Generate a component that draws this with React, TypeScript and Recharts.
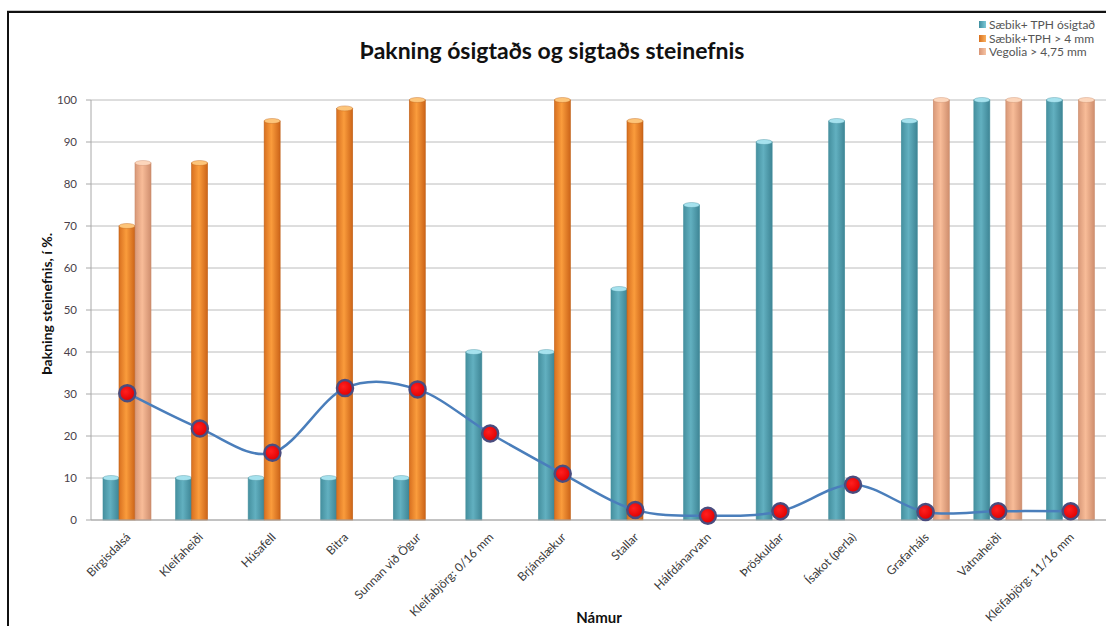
import React from 'react';
import { ComposedChart, Bar, Line, XAxis, YAxis, CartesianGrid } from 'recharts';

const categories = [
  'Birgisdalsá', 'Kleifaheiði', 'Húsafell', 'Bitra', 'Sunnan við Ögur', 'Kleifabjörg: 0/16 mm',
  'Brjánslækur', 'Stallar', 'Hálfdánarvatn', 'Þröskuldar', 'Ísakot (perla)', 'Grafarháls',
  'Vatnaheiði', 'Kleifabjörg: 11/16 mm',
];
const saebikOsigtad = [10, 10, 10, 10, 10, 40, 40, 55, 75, 90, 95, 95, 100, 100];
const saebik4mm = [70, 85, 95, 98, 100, null, 100, 95, null, null, null, null, null, null];
const vegolia = [85, null, null, null, null, null, null, null, null, null, null, 100, 100, 100];
const lineValues = [30.2, 21.8, 16, 31.4, 31.1, 20.6, 11, 2.4, 1, 2.1, 8.4, 1.9, 2.1, 2.1];
const yTicks = [0, 10, 20, 30, 40, 50, 60, 70, 80, 90, 100];

const seriesNames = ['Sæbik+ TPH ósigtað', 'Sæbik+TPH > 4 mm', 'Vegolia > 4,75 mm'];

const data = categories.map((c, i) => ({
  name: c,
  a: saebikOsigtad[i],
  b: saebik4mm[i],
  c: vegolia[i],
  l: lineValues[i],
}));

const FONT = 'Lato, "Open Sans", sans-serif';

// Catmull-Rom style smoothing (similar to Excel smoothed line)
const smoothCurve = (context: any) => {
  let pts: number[][] = [];
  return {
    areaStart() {},
    areaEnd() {},
    lineStart() { pts = []; },
    point(x: number, y: number) { pts.push([+x, +y]); },
    lineEnd() {
      if (!pts.length) return;
      context.moveTo(pts[0][0], pts[0][1]);
      for (let i = 0; i < pts.length - 1; i++) {
        const p0 = pts[i - 1] || pts[i];
        const p1 = pts[i];
        const p2 = pts[i + 1];
        const p3 = pts[i + 2] || p2;
        context.bezierCurveTo(
          p1[0] + (p2[0] - p0[0]) / 6, p1[1] + (p2[1] - p0[1]) / 6,
          p2[0] - (p3[0] - p1[0]) / 6, p2[1] - (p3[1] - p1[1]) / 6,
          p2[0], p2[1]
        );
      }
    },
  };
};

const makeCylinder = (grad: string, top: string, edge: string) => (props: any) => {
  const { x, y, width, height } = props;
  if (height == null || !(height > 0)) return null;
  return (
    <g>
      <rect x={x} y={y} width={width} height={height} fill={`url(#${grad})`} stroke={edge} strokeWidth={0.6} />
      <ellipse cx={x + width / 2} cy={y} rx={width / 2} ry={2.5} fill={top} stroke={edge} strokeWidth={0.4} />
    </g>
  );
};

const tealShape = makeCylinder('gTeal', '#a6e2ee', '#47909e');
const orangeShape = makeCylinder('gOrange', '#fdc57a', '#c0621a');
const peachShape = makeCylinder('gPeach', '#fcd6bc', '#c98a6a');

const XTick = (props: any) => {
  const { x, y, payload } = props;
  const ax = x + 4;
  const ay = y + 10;
  return (
    <text
      x={ax}
      y={ay}
      transform={`rotate(-45, ${ax}, ${ay})`}
      textAnchor="end"
      fontSize={12}
      fill="#3a3a3a"
      fontFamily={FONT}
    >
      {payload.value}
    </text>
  );
};

const legendColors = [
  ['#3f8fa0', '#7cc8d8'],
  ['#d8701c', '#f9b060'],
  ['#d89474', '#f6c4a4'],
];

export default function App() {
  return (
    <div style={{ position: 'absolute', left: 0, top: 0, width: 1106, height: 626, overflow: 'hidden', background: '#fff', fontFamily: FONT }}>
      {/* frame */}
      <div style={{ position: 'absolute', left: 7, top: 10, width: 1200, height: 1, background: '#c8c8c8' }} />
      <div style={{ position: 'absolute', left: 7, top: 11, width: 1200, height: 2, background: '#111' }} />
      <div style={{ position: 'absolute', left: 7, top: 11, width: 2, height: 700, background: '#111' }} />

      <div style={{ position: 'absolute', left: 0, top: 0 }}>
        <ComposedChart
          width={1120}
          height={626}
          data={data}
          margin={{ top: 100, right: 13, bottom: 0, left: 0 }}
          barSize={16}
          barGap={0}
        >
          <defs>
            <linearGradient id="gTeal" x1="0" y1="0" x2="1" y2="0">
              <stop offset="0%" stopColor="#45909f" />
              <stop offset="45%" stopColor="#62b0c0" />
              <stop offset="100%" stopColor="#3e8595" />
            </linearGradient>
            <linearGradient id="gOrange" x1="0" y1="0" x2="1" y2="0">
              <stop offset="0%" stopColor="#d87020" />
              <stop offset="45%" stopColor="#fa9c3c" />
              <stop offset="100%" stopColor="#cc6418" />
            </linearGradient>
            <linearGradient id="gPeach" x1="0" y1="0" x2="1" y2="0">
              <stop offset="0%" stopColor="#d89878" />
              <stop offset="45%" stopColor="#f8bc98" />
              <stop offset="100%" stopColor="#cf8e6e" />
            </linearGradient>
            <radialGradient id="gDot" cx="0.4" cy="0.4" r="0.6">
              <stop offset="0%" stopColor="#ff2020" />
              <stop offset="100%" stopColor="#e00000" />
            </radialGradient>
          </defs>
          <CartesianGrid vertical={false} stroke="#bcbcbc" strokeWidth={1} />
          <XAxis
            dataKey="name"
            height={106}
            interval={0}
            tick={<XTick />}
            tickLine={false}
            axisLine={{ stroke: '#a8a8a8' }}
            label={{ value: 'Námur', position: 'insideBottom', offset: 3, fontSize: 15, fontWeight: 'bold', fill: '#111', fontFamily: FONT }}
          />
          <YAxis
            width={91}
            domain={[0, 100]}
            ticks={yTicks}
            interval={0}
            tickSize={5}
            tickMargin={9}
            tick={{ fontSize: 11.5, fill: '#4a3f4a', fontFamily: FONT }}
            tickLine={{ stroke: '#a8a8a8' }}
            axisLine={{ stroke: '#a8a8a8' }}
            label={{ value: 'Þakning steinefnis, í %.', angle: -90, position: 'center', fontSize: 14, fontWeight: 'bold', fill: '#111', fontFamily: FONT, dx: 2, dy: -6 }}
          />
          <Bar dataKey="a" name={seriesNames[0]} shape={tealShape} isAnimationActive={false} />
          <Bar dataKey="b" name={seriesNames[1]} shape={orangeShape} isAnimationActive={false} />
          <Bar dataKey="c" name={seriesNames[2]} shape={peachShape} isAnimationActive={false} />
          <Line
            dataKey="l"
            type={smoothCurve as any}
            stroke="#4a7ebb"
            strokeWidth={2.5}
            dot={{ r: 8, fill: 'url(#gDot)', stroke: '#4a4c7e', strokeWidth: 2.5 }}
            activeDot={false}
            isAnimationActive={false}
          />
        </ComposedChart>
      </div>

      {/* title */}
      <span style={{ position: 'absolute', left: 552, top: 36, transform: 'translateX(-50%)', fontSize: 23, fontWeight: 'bold', color: '#111', whiteSpace: 'nowrap' }}>
        Þakning ósigtaðs og sigtaðs steinefnis
      </span>

      {/* legend */}
      <div style={{ position: 'absolute', left: 979, top: 18 }}>
        {seriesNames.map((n, i) => (
          <div key={n} style={{ display: 'flex', alignItems: 'center', height: 13.5, fontSize: 12, color: '#555', whiteSpace: 'nowrap' }}>
            <span style={{ display: 'inline-block', width: 7, height: 7, marginRight: 3, background: `linear-gradient(to right, ${legendColors[i][0]}, ${legendColors[i][1]})` }} />
            {n}
          </div>
        ))}
      </div>
    </div>
  );
}
